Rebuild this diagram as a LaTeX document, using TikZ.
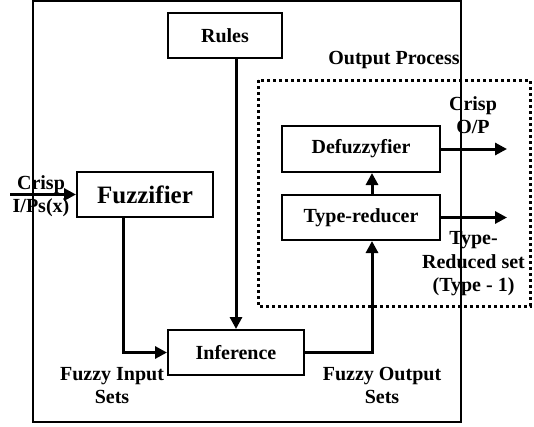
\documentclass[tikz,border=0pt]{standalone}
\usepackage{fontspec}
\setmainfont{Liberation Serif}
\usetikzlibrary{arrows.meta}
\tikzset{
  blk/.style={draw, line width=2pt, inner sep=0pt, font=\fontsize{20}{23}\selectfont\bfseries},
  lbl/.style={inner sep=0pt, align=center, anchor=base, font=\fontsize{20}{23.5}\selectfont\bfseries},
  arr/.style={line width=3pt, -{Triangle[length=12pt,width=12pt]}},
  outerbox/.style={line width=1.3pt},
  procbox/.style={line width=3pt, dash pattern=on 3pt off 3pt}
}
\begin{document}
\begin{tikzpicture}[x=1pt,y=-1pt]
\useasboundingbox (0,0) rectangle (534,426);
\draw[outerbox] (33,1) rectangle (461,422);
\draw[procbox] (258,80) rectangle (530,306);

\node[blk, minimum width=114pt, minimum height=45pt] (rules) at (225,35.5) {Rules};
\node[blk, minimum width=136pt, minimum height=45pt, font=\fontsize{25}{28}\selectfont\bfseries] (fuzz) at (145,194.5) {Fuzzifier};
\node[blk, minimum width=136pt, minimum height=45pt] (inf) at (236,352.5) {Inference};
\node[blk, minimum width=158pt, minimum height=46pt] (defuzz) at (361,149) {Defuzzyfier};
\node[blk, minimum width=158pt, minimum height=45pt] (typered) at (361,217.5) {Type-reducer};

\coordinate (in) at (10,194.5);
\coordinate (out1) at (507,149);
\coordinate (out2) at (507,217.5);

\draw[arr] (in) -- (fuzz.west);
\draw[arr] (rules.south -| inf.north) -- (inf.north);
\draw[arr] ([xshift=-22pt]fuzz.south) |- (inf.west);
\draw[arr] (inf.east) -| ([xshift=11pt]typered.south);
\draw[arr] ([xshift=11pt]typered.north) -- ([xshift=11pt]defuzz.south);
\draw[arr] (defuzz.east) -- (out1);
\draw[arr] (typered.east) -- (out2);

\node[lbl] (outproc) at (394,64) {Output Process};
\node[lbl] (crispout) at (473,133.5) {Crisp\\O/P};
\node[lbl] (crispin) at (41,212.5) {Crisp\\I/Ps(x)};
\node[lbl] (fis) at (112,403.5) {Fuzzy Input\\Sets};
\node[lbl] (fos) at (382,403.5) {Fuzzy Output\\Sets};
\node[lbl] (trs) at (473.5,291.5) {Type-\\Reduced set\\(Type - 1)};
\end{tikzpicture}
\end{document}
